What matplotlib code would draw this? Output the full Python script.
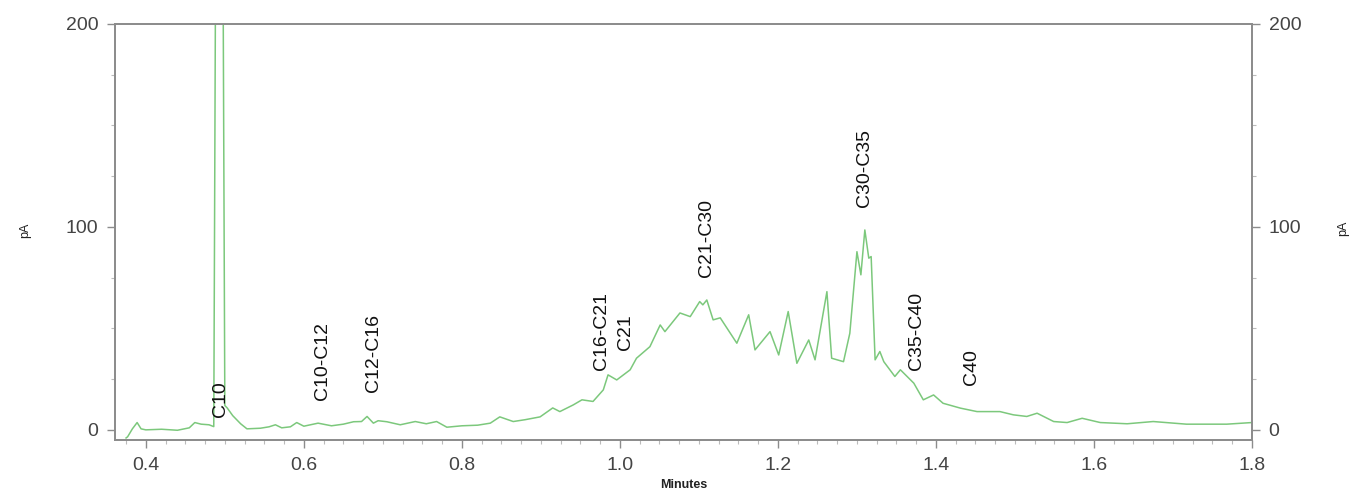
"""GC-FID chromatogram (0.36-1.8 min) with carbon-range labels -> out.png."""

import matplotlib
matplotlib.use("Agg")
import matplotlib.pyplot as plt  # noqa: E402
from matplotlib.ticker import MultipleLocator  # noqa: E402

# retention time (min) and detector signal (pA)
TIME = [0.375, 0.377, 0.383, 0.389, 0.394, 0.400, 0.420, 0.440, 0.455, 0.462,
        0.470, 0.480, 0.486, 0.4885, 0.493, 0.4975, 0.500, 0.503, 0.510, 0.520,
        0.528, 0.545, 0.556, 0.564, 0.572, 0.583, 0.591, 0.600, 0.618, 0.635,
        0.650, 0.663, 0.673, 0.680, 0.688, 0.694, 0.705, 0.722, 0.741, 0.755,
        0.768, 0.781, 0.800, 0.820, 0.836, 0.848, 0.865, 0.880, 0.899, 0.915,
        0.924, 0.941, 0.952, 0.966, 0.979, 0.985, 0.996, 1.013, 1.021, 1.038,
        1.051, 1.057, 1.076, 1.089, 1.101, 1.105, 1.110, 1.118, 1.127, 1.148,
        1.163, 1.171, 1.190, 1.201, 1.213, 1.224, 1.239, 1.247, 1.262, 1.268,
        1.283, 1.291, 1.300, 1.305, 1.310, 1.315, 1.318, 1.323, 1.329, 1.334,
        1.348, 1.355, 1.372, 1.384, 1.397, 1.409, 1.431, 1.452, 1.481, 1.498,
        1.515, 1.528, 1.549, 1.566, 1.585, 1.608, 1.642, 1.675, 1.717, 1.768,
        1.800]
SIGNAL = [-4.0, -3.4, 0.5, 3.6, 0.5, 0.0, 0.3, -0.2, 1.0, 3.6,
          2.8, 2.5, 1.6, 250.0, 450.0, 250.0, 12.0, 10.8, 7.0, 3.0,
          0.5, 0.8, 1.5, 2.5, 1.0, 1.5, 3.6, 1.8, 3.3, 2.0,
          2.8, 4.0, 4.1, 6.6, 3.3, 4.5, 4.0, 2.5, 4.1, 3.0,
          4.1, 1.3, 2.0, 2.3, 3.3, 6.4, 4.1, 5.0, 6.4, 10.8,
          9.0, 12.3, 14.8, 14.0, 19.7, 27.1, 24.6, 29.6, 35.3, 41.0,
          51.7, 48.4, 57.6, 55.8, 63.2, 61.6, 64.0, 54.2, 55.2, 42.7,
          56.7, 39.4, 48.4, 36.9, 58.3, 32.8, 44.3, 34.5, 68.1, 35.3,
          33.6, 47.6, 87.8, 76.4, 98.5, 84.6, 85.4, 34.5, 38.6, 33.6,
          26.3, 29.6, 23.0, 14.8, 17.2, 13.1, 10.7, 9.0, 9.0, 7.4,
          6.6, 8.2, 4.1, 3.6, 5.7, 3.6, 3.0, 4.1, 2.8, 2.8,
          3.6]

# peak-group labels: text, time, signal at the foot of the (rotated) text
LABELS = ["C10", "C10-C12", "C12-C16", "C16-C21", "C21", "C21-C30",
          "C30-C35", "C35-C40", "C40"]
LABEL_T = [0.494, 0.623, 0.688, 0.977, 1.007, 1.110, 1.310, 1.376, 1.445]
LABEL_Y = [6.4, 14.8, 18.9, 29.6, 39.4, 75.5, 110.0, 29.6, 22.2]

XTICKS = [0.4, 0.6, 0.8, 1.0, 1.2, 1.4, 1.6, 1.8]
YTICKS = [0, 100, 200]

plt.rcParams["font.family"] = ["Liberation Sans", "DejaVu Sans"]
GREY = "#8c8c8c"
TICKC = "#444444"

fig = plt.figure(figsize=(13.55, 4.95), dpi=100)
ax = fig.add_axes([115 / 1355, 1 - 440 / 495, (1252 - 115) / 1355, (440 - 24) / 495])

ax.plot(TIME, SIGNAL, color="#7cc87c", lw=1.1, zorder=2)
for lab, t, y in zip(LABELS, LABEL_T, LABEL_Y):
    ax.text(t, y, lab, rotation=90, ha="center", va="bottom",
            fontsize=14, color="#111111", zorder=3)

ax.set_xlim(0.361, 1.8)
ax.set_ylim(-5, 200)

for s in ax.spines.values():
    s.set_color(GREY)
    s.set_linewidth(1.3)

ax.set_xticks(XTICKS)
ax.set_xticklabels([f"{v:.1f}" for v in XTICKS])
ax.xaxis.set_minor_locator(MultipleLocator(0.025))
ax.set_yticks(YTICKS)
ax.yaxis.set_minor_locator(MultipleLocator(25))
ax.tick_params(axis="both", which="major", length=6, width=1, color=GREY,
               labelsize=14, labelcolor=TICKC, pad=6)
ax.tick_params(axis="both", which="minor", length=3, width=0.8, color="#bbbbbb")

ax2 = ax.twinx()
ax2.set_ylim(ax.get_ylim())
ax2.set_yticks(YTICKS)
ax2.yaxis.set_minor_locator(MultipleLocator(25))
ax2.tick_params(axis="y", which="major", length=6, width=1, color=GREY,
                labelsize=14, labelcolor=TICKC, pad=6)
ax2.tick_params(axis="y", which="minor", length=3, width=0.8, color="#bbbbbb")
for s in ax2.spines.values():
    s.set_color(GREY)
    s.set_linewidth(1.3)

ax.set_xlabel("Minutes", fontsize=9, fontweight="bold", color="#222222", labelpad=4)
fig.text(25 / 1355, 1 - 230 / 495, "pA", rotation=90, ha="center", va="center",
         fontsize=9, color="#222222")
fig.text(1343 / 1355, 1 - 228 / 495, "pA", rotation=90, ha="center", va="center",
         fontsize=9, color="#222222")

fig.savefig("out.png", dpi=100)
